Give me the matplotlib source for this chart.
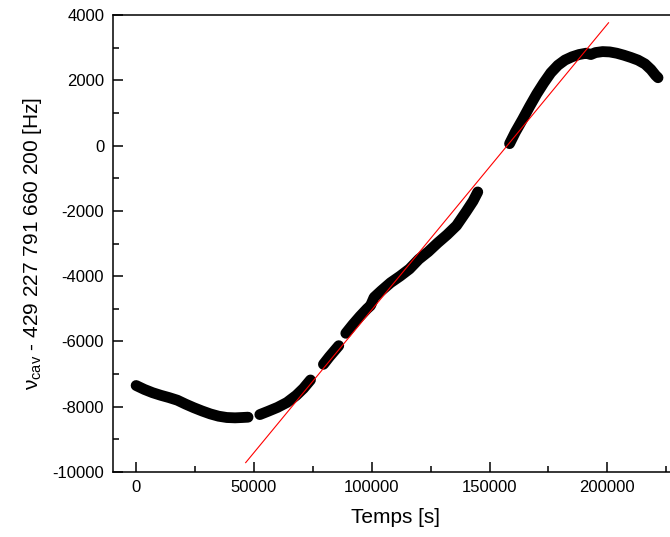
import matplotlib
matplotlib.use('Agg')
import matplotlib.pyplot as plt
from matplotlib.ticker import MultipleLocator

plt.rcParams['font.family'] = ['Liberation Sans', 'DejaVu Sans']
plt.rcParams['mathtext.default'] = 'regular'
plt.rcParams['axes.unicode_minus'] = False

t1 = [0, 3500, 7000, 10500, 14000, 17500, 21000, 24500, 28000, 31500, 35000, 38500, 42000, 45000, 47500]
v1 = [-7350, -7470, -7570, -7650, -7720, -7800, -7920, -8030, -8130, -8220, -8290, -8330, -8340, -8330, -8320]

t2 = [52500, 56000, 60000, 64000, 68000, 71000, 74000]
v2 = [-8240, -8140, -8020, -7870, -7650, -7440, -7180]

t3 = [79500, 82000, 84000, 86000]
v3 = [-6700, -6470, -6300, -6130]

t4 = [89000, 92000, 95000, 98000, 99500, 101000, 104000, 108000, 112000, 116000,
      120000, 124000, 128000, 132000, 136000, 140000, 143000, 145000]
v4 = [-5750, -5480, -5230, -5000, -4900, -4650, -4450, -4200, -4000, -3780,
      -3480, -3250, -2980, -2730, -2450, -2030, -1700, -1420]

t5 = [158500, 161000, 164000, 167000, 170000, 173000, 176000, 179000, 182000, 185000,
      188000, 191000, 193000, 195000, 198000, 201000, 204000, 207000, 210000, 213000,
      216000, 218500, 220500, 221500]
v5 = [60, 420, 800, 1200, 1580, 1920, 2230, 2460, 2620, 2720,
      2790, 2830, 2790, 2850, 2880, 2870, 2830, 2770, 2700, 2620,
      2500, 2330, 2150, 2080]

# linear fit
fit_slope = 0.0875
fit_intercept = -13781
fit_range = [46500, 200500]

fig = plt.figure(figsize=(6.7, 5.37), dpi=100)
ax = fig.add_axes([0.168, 0.121, 0.844, 0.851])

for t, v in [(t1, v1), (t2, v2), (t3, v3), (t4, v4), (t5, v5)]:
    ax.plot(t, v, color='black', lw=7.8, solid_capstyle='round', solid_joinstyle='round')

fx = fit_range
fy = [fit_intercept + fit_slope * x for x in fx]
ax.plot(fx, fy, color='red', lw=0.8)

ax.set_xlim(-10000, 230000)
ax.set_ylim(-10000, 4000)
ax.xaxis.set_major_locator(MultipleLocator(50000))
ax.xaxis.set_minor_locator(MultipleLocator(25000))
ax.yaxis.set_major_locator(MultipleLocator(2000))
ax.yaxis.set_minor_locator(MultipleLocator(1000))
ax.tick_params(which='both', direction='in', width=1.1, labelsize=12, pad=6,
               top=False, right=False)
ax.tick_params(which='major', length=7)
ax.tick_params(which='minor', length=4.3)
for s in ax.spines.values():
    s.set_linewidth(1.1)

ax.set_xlabel('Temps [s]', fontsize=15, labelpad=9)
ax.set_ylabel(r'$\nu_{cav}$ - 429 227 791 660 200 [Hz]', fontsize=15, labelpad=6)

fig.savefig('out.png', dpi=100)
